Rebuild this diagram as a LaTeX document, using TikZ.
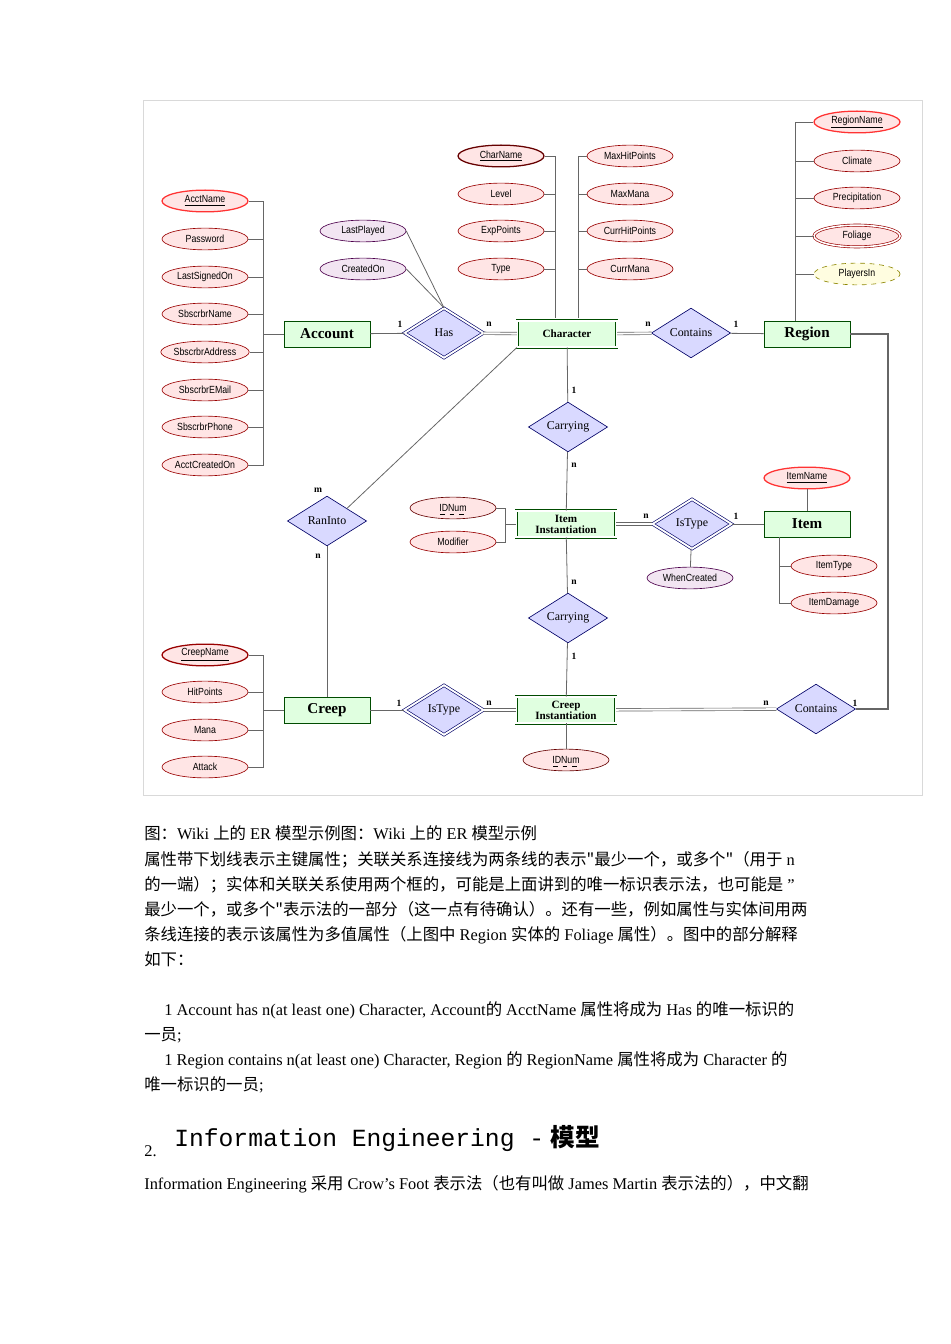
\documentclass[tikz,border=0pt]{standalone}
\usepackage{fontspec}
\setmainfont{Liberation Serif}
\newfontfamily\cjk{Noto Sans CJK SC}
\newfontfamily\attrfont{Liberation Sans}[FakeStretch=0.85]
\newfontfamily\headfont{Liberation Mono}
\usetikzlibrary{shapes.geometric,positioning}
\tikzset{
  attr/.style={ellipse, draw=red!60!black, fill=red!10, minimum width=1.9cm, minimum height=0.48cm, inner sep=0pt, font=\attrfont\fontsize{6.5}{7}\selectfont},
  keyattr/.style={attr, draw=red!80, thick},
  relattr/.style={attr, draw=violet!60!black, fill=violet!10},
  entity/.style={rectangle, draw=green!30!black, fill=green!12, minimum width=1.9cm, minimum height=0.58cm, inner sep=1pt, font=\bfseries\fontsize{9.5}{10}\selectfont},
  weak/.style={entity, double, double distance=1.2pt, minimum width=2.2cm, font=\bfseries\fontsize{7}{7}\selectfont, align=center},
  rel/.style={diamond, draw=blue!40!black, fill=blue!15, minimum width=1.75cm, minimum height=1.1cm, aspect=1.6, inner sep=0pt, font=\fontsize{7.5}{8}\selectfont},
  wrel/.style={rel, double, double distance=1.2pt},
  card/.style={font=\bfseries\fontsize{6}{6}\selectfont, inner sep=0pt},
  link/.style={draw=black!60, line width=0.5pt},
  dbl/.style={draw=black!60, double, double distance=1.2pt, line width=0.4pt},
  txt/.style={anchor=base west, inner sep=0pt, font=\fontsize{10.3}{12}\selectfont}
}
\begin{document}
\begin{tikzpicture}[x=0.0221cm,y=-0.0221cm]
\useasboundingbox (0,0) rectangle (950,1344);
\draw[black!15] (143,100) rectangle (922,795);
% entities and relations
\node[entity] (account) at (327,334) {Account};
\node[wrel] (has) at (444,333) {Has};
\node[weak] (character) at (567,334) {Character};
\node[rel] (contains) at (691,333) {Contains};
\node[entity] (region) at (807,334) {Region};
\node[rel] (carry1) at (568,427) {Carrying};
\node[weak] (iteminst) at (566,524) {Item\\Instantiation};
\node[wrel] (istype1) at (692,524) {IsType};
\node[entity] (item) at (807,524) {Item};
\node[rel] (carry2) at (568,618) {Carrying};
\node[weak] (creepinst) at (566,710) {Creep\\Instantiation};
\node[wrel] (istype2) at (444,710) {IsType};
\node[entity] (creep) at (327,710) {Creep};
\node[rel] (contains2) at (816,709) {Contains};
\node[rel] (raninto) at (327,521) {RanInto};
% attributes
\node[keyattr] (acctname) at (205,201) {\underline{AcctName}};
\node[attr] (password) at (205,239) {Password};
\node[attr] (lastsigned) at (205,277) {LastSignedOn};
\node[attr] (sbname) at (205,314) {SbscrbrName};
\node[attr] (sbaddr) at (205,352) {SbscrbrAddress};
\node[attr] (sbmail) at (205,390) {SbscrbrEMail};
\node[attr] (sbphone) at (205,427) {SbscrbrPhone};
\node[attr] (acctcreated) at (205,465) {AcctCreatedOn};
\node[relattr] (lastplayed) at (363,231) {LastPlayed};
\node[relattr] (createdon) at (363,269) {CreatedOn};
\node[keyattr, draw=red!40!black] (charname) at (501,156) {\underline{CharName}};
\node[attr] (level) at (501,194) {Level};
\node[attr] (exppoints) at (501,231) {ExpPoints};
\node[attr] (type) at (501,269) {Type};
\node[attr] (maxhp) at (630,156) {MaxHitPoints};
\node[attr] (maxmana) at (630,194) {MaxMana};
\node[attr] (currhp) at (630,231) {CurrHitPoints};
\node[attr] (currmana) at (630,269) {CurrMana};
\node[keyattr] (regionname) at (857,122) {\underline{RegionName}};
\node[attr] (climate) at (857,161) {Climate};
\node[attr] (precip) at (857,198) {Precipitation};
\node[attr, double, double distance=1pt] (foliage) at (857,236) {Foliage};
\node[attr, draw=olive, dashed, fill=yellow!12] (playersin) at (857,274) {PlayersIn};
\node[attr, draw=red!40!black] (idnum1) at (453,508) {IDNum};
\draw[dashed, line width=0.4pt] ([shift={(-13,6)}]idnum1.center) -- ([shift={(13,6)}]idnum1.center);
\node[attr] (modifier) at (453,542) {Modifier};
\node[relattr] (whencreated) at (690,578) {WhenCreated};
\node[keyattr] (itemname) at (807,478) {\underline{ItemName}};
\node[attr] (itemtype) at (834,566) {ItemType};
\node[attr] (itemdamage) at (834,603) {ItemDamage};
\node[keyattr, draw=red!60!black] (creepname) at (205,655) {\underline{CreepName}};
\node[attr] (hitpoints) at (205,692) {HitPoints};
\node[attr] (mana) at (205,730) {Mana};
\node[attr] (attack) at (205,767) {Attack};
\node[attr, draw=red!40!black] (idnum2) at (566,760) {IDNum};
\draw[dashed, line width=0.4pt] ([shift={(-13,6)}]idnum2.center) -- ([shift={(13,6)}]idnum2.center);
% bus points
\coordinate (accbus) at (263,334);
\coordinate (creepbus) at (263,710);
\coordinate (charl) at (555,318);
\coordinate (charr) at (578,318);
\coordinate (regbus) at (795,321);
\coordinate (itembus) at (779,537);
\coordinate (idbus) at (505,524);
\coordinate (regcorner) at (888,334);
\coordinate (conscorner) at (888,709);
% connectors
\foreach \a in {acctname,password,lastsigned,sbname,sbaddr,sbmail,sbphone,acctcreated}
  \draw[link] (\a.east) -| (accbus);
\foreach \a in {creepname,hitpoints,mana,attack}
  \draw[link] (\a.east) -| (creepbus);
\foreach \a in {charname,level,exppoints,type}
  \draw[link] (\a.east) -| (charl);
\foreach \a in {maxhp,maxmana,currhp,currmana}
  \draw[link] (\a.west) -| (charr);
\foreach \a in {regionname,climate,precip,foliage,playersin}
  \draw[link] (\a.west) -| (regbus);
\foreach \a in {itemtype,itemdamage}
  \draw[link] (\a.west) -| (itembus);
\foreach \a in {idnum1,modifier}
  \draw[link] (\a.east) -| (idbus);
\draw[link] (accbus) -- (account);
\draw[link] (creepbus) -- (creep);
\draw[link] (idbus) -- (iteminst);
\draw[link] (account) -- (has);
\draw[dbl] (has) -- (character);
\draw[dbl] (character) -- (contains);
\draw[link] (contains) -- (region);
\draw[link] (lastplayed.east) -- (has.north);
\draw[link] (createdon.east) -- (has.north);
\draw[link] (character) -- (carry1);
\draw[link] (carry1) -- (iteminst);
\draw[dbl] (iteminst) -- (istype1);
\draw[link] (istype1) -- (item);
\draw[link] (istype1) -- (whencreated);
\draw[link] (itemname) -- (item);
\draw[link] (iteminst) -- (carry2);
\draw[link] (carry2) -- (creepinst);
\draw[link] (creepinst) -- (idnum2);
\draw[link] (creep) -- (istype2);
\draw[dbl] (istype2) -- (creepinst);
\draw[dbl] (creepinst) -- (contains2);
\draw[link, line width=0.8pt] (region.east) -- (regcorner) -- (conscorner) -- (contains2.east);
\draw[link] (character.south west) -- (raninto.north east);
\draw[link] (raninto) -- (creep);
% cardinalities
\node[card] (c1) at (400,324) {1};
\node[card] (c2) at (489,324) {n};
\node[card] (c3) at (648,324) {n};
\node[card] (c4) at (736,324) {1};
\node[card] (c5) at (574,390) {1};
\node[card] (c6) at (574,465) {n};
\node[card] (c7) at (318,490) {m};
\node[card] (c8) at (318,556) {n};
\node[card] (c9) at (646,516) {n};
\node[card] (c10) at (736,516) {1};
\node[card] (c11) at (574,582) {n};
\node[card] (c12) at (574,656) {1};
\node[card] (c13) at (399,703) {1};
\node[card] (c14) at (489,703) {n};
\node[card] (c15) at (766,703) {n};
\node[card] (c16) at (855,703) {1};
% text below
\node[txt] (t1) at (144,839) {{\cjk 图：}Wiki {\cjk 上的} ER {\cjk 模型示例图：}Wiki {\cjk 上的} ER {\cjk 模型示例}};
\node[txt] (t2) at (144,865) {{\cjk 属性带下划线表示主键属性；关联关系连接线为两条线的表示"最少一个，或多个"（用于} n};
\node[txt] (t3) at (144,890) {{\cjk 的一端）；实体和关联关系使用两个框的，可能是上面讲到的唯一标识表示法，也可能是} "};
\node[txt] (t4) at (144,915) {{\cjk 最少一个，或多个"表示法的一部分（这一点有待确认）。还有一些，例如属性与实体间用两}};
\node[txt] (t5) at (144,940) {{\cjk 条线连接的表示该属性为多值属性（上图中} Region {\cjk 实体的} Foliage {\cjk 属性）。图中的部分解释}};
\node[txt] (t6) at (144,965) {{\cjk 如下：}};
\node[txt] (t7) at (164,1015) {1 Account has n(at least one) Character, Account{\cjk 的} AcctName {\cjk 属性将成为} Has {\cjk 的唯一标识的}};
\node[txt] (t8) at (144,1040) {{\cjk 一员}; };
\node[txt] (t9) at (164,1065) {1 Region contains n(at least one) Character, Region\ {\cjk 的} RegionName {\cjk 属性将成为} Character {\cjk 的}};
\node[txt] (t10) at (144,1090) {{\cjk 唯一标识的一员}; };
\node[txt] (t11) at (144,1156) {2.};
\node[txt, font=\fontsize{15.5}{18}\selectfont] (t12) at (174,1146) {{\headfont Information Engineering -} {\cjk\bfseries 模型}};
\node[txt] (t13) at (144,1189) {Information Engineering {\cjk 采用} Crow's Foot {\cjk 表示法（也有叫做} James Martin {\cjk 表示法的），中文翻}};
\end{tikzpicture}
\end{document}
